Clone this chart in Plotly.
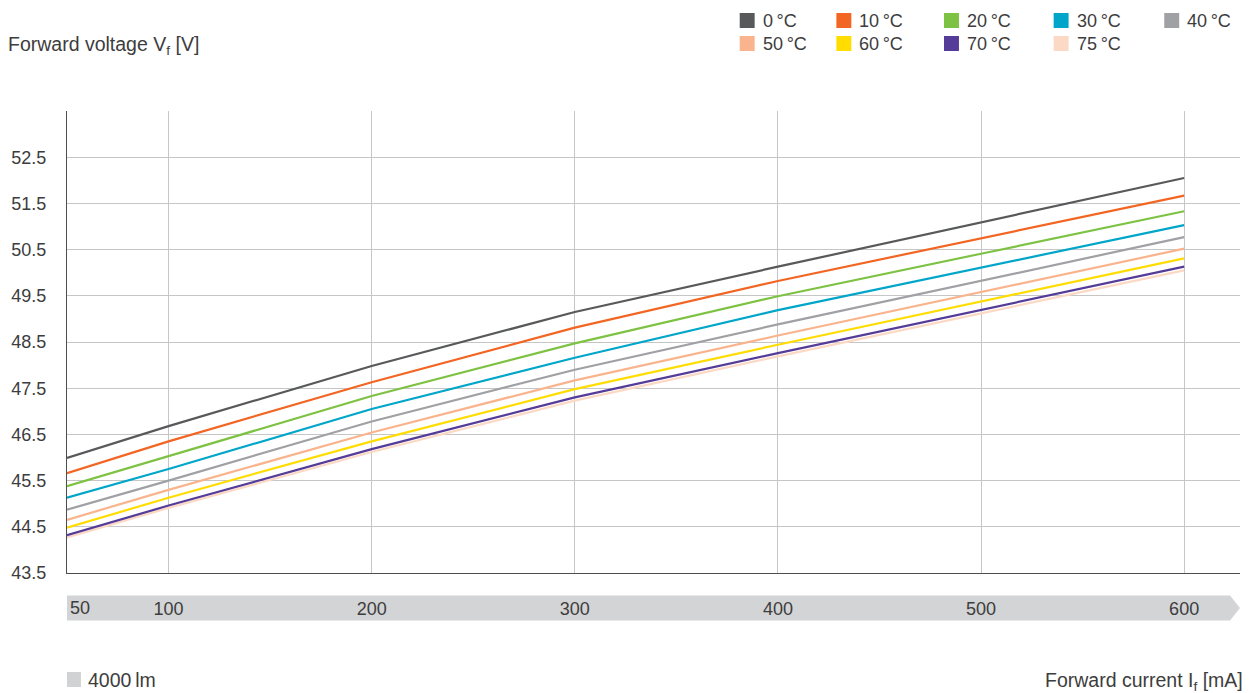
import plotly.graph_objects as go

# ---- data ----
current_mA = [50, 100, 200, 300, 400, 500, 600]
series_names = ["0\u2009°C", "10\u2009°C", "20\u2009°C", "30\u2009°C", "40\u2009°C",
                "50\u2009°C", "60\u2009°C", "70\u2009°C", "75\u2009°C"]
v_0 = [45.99, 46.68, 47.98, 49.15, 50.13, 51.09, 52.05]
v_10 = [45.66, 46.35, 47.63, 48.81, 49.82, 50.75, 51.67]
v_20 = [45.38, 46.03, 47.33, 48.47, 49.49, 50.41, 51.33]
v_30 = [45.13, 45.75, 47.05, 48.16, 49.19, 50.11, 51.03]
v_40 = [44.87, 45.50, 46.78, 47.90, 48.88, 49.83, 50.77]
v_50 = [44.65, 45.30, 46.54, 47.67, 48.64, 49.58, 50.52]
v_60 = [44.48, 45.13, 46.35, 47.48, 48.44, 49.37, 50.31]
v_70 = [44.32, 44.96, 46.18, 47.30, 48.26, 49.19, 50.13]
v_75 = [44.27, 44.91, 46.12, 47.23, 48.19, 49.12, 50.05]
series_values = [v_0, v_10, v_20, v_30, v_40, v_50, v_60, v_70, v_75]
colors = ["#58595b", "#f26522", "#7dc242", "#00a6c9", "#a0a1a4",
          "#f9b48d", "#ffdd00", "#553c99", "#fcd9c4"]
x_ticks = [100, 200, 300, 400, 500, 600]
y_ticks = [43.5, 44.5, 45.5, 46.5, 47.5, 48.5, 49.5, 50.5, 51.5, 52.5]

FONT = "Liberation Sans, Arial, sans-serif"
TXT = "#3d3d3d"

W, H = 1251, 693
L, R, T, B = 63, 11, 111, 120
PW, PH = W - L - R, H - T - B


def px(xp):
    return (xp - L) / PW


def py(yp):
    return (H - B - yp) / PH


fig = go.Figure()
# draw in reverse so the 0°C line is on top
for name, vals, col in reversed(list(zip(series_names, series_values, colors))):
    fig.add_trace(go.Scatter(x=current_mA, y=vals, mode="lines", name=name,
                             line=dict(color=col, width=2.2), showlegend=False,
                             hoverinfo="x+y+name"))

shapes = []
annotations = []

# arrow band under the x axis
shapes.append(dict(type="path", xref="paper", yref="paper",
                   path=f"M 0,{py(595.5)} L {px(1230)},{py(595.5)} L {px(1240)},{py(608)} "
                        f"L {px(1230)},{py(620.5)} L 0,{py(620.5)} Z",
                   fillcolor="#d3d4d5", line=dict(width=0), layer="below"))
annotations.append(dict(text="50", x=current_mA[0], xref="x", xanchor="left", xshift=1,
                        y=py(608), yref="paper", yanchor="middle", showarrow=False,
                        font=dict(family=FONT, size=18, color=TXT)))

# custom legend (grid of 2 rows x 5 columns)
col_left = [738, 835, 943, 1053, 1164]
row_center = [20.5, 43.5]
for i, (name, col) in enumerate(zip(series_names, colors)):
    r, c = divmod(i, 5)
    x0 = col_left[c]
    yc = row_center[r]
    shapes.append(dict(type="rect", xref="paper", yref="paper",
                       x0=px(x0), x1=px(x0 + 15), y0=py(yc + 7.5), y1=py(yc - 7.5),
                       fillcolor=col, line=dict(width=0)))
    annotations.append(dict(text=name, x=px(x0 + 21), xref="paper", xanchor="left",
                            y=py(yc + 1), yref="paper", yanchor="middle", showarrow=False,
                            font=dict(family=FONT, size=18, color=TXT)))

# axis titles
annotations.append(dict(text="Forward voltage V<sub>f</sub> [V]", x=px(2), xref="paper",
                        xanchor="left", y=py(45), yref="paper", yanchor="middle",
                        showarrow=False, font=dict(family=FONT, size=19.5, color=TXT)))
annotations.append(dict(text="Forward current I<sub>f</sub> [mA]", x=px(1245), xref="paper",
                        xanchor="right", y=py(681), yref="paper", yanchor="middle",
                        showarrow=False, font=dict(family=FONT, size=19.5, color=TXT)))
# bottom-left series key
shapes.append(dict(type="rect", xref="paper", yref="paper",
                   x0=px(63), x1=px(77), y0=py(687), y1=py(672),
                   fillcolor="#d1d2d4", line=dict(width=0)))
annotations.append(dict(text="4000\u2009lm", x=px(82), xref="paper", xanchor="left",
                        y=py(680), yref="paper", yanchor="middle", showarrow=False,
                        font=dict(family=FONT, size=19.5, color=TXT)))

fig.update_layout(
    width=W, height=H,
    margin=dict(l=L, r=R, t=T, b=B, pad=0),
    paper_bgcolor="white", plot_bgcolor="white",
    showlegend=False,
    shapes=shapes, annotations=annotations,
    font=dict(family=FONT, size=18, color=TXT),
    xaxis=dict(range=[50, 627.5], tickmode="array", tickvals=x_ticks,
               ticktext=[str(v) for v in x_ticks],
               showgrid=True, gridcolor="#c6c6c6", gridwidth=1,
               showline=True, linecolor="#4d4d4d", linewidth=1,
               zeroline=False, ticks="", ticklabelstandoff=19,
               tickfont=dict(family=FONT, size=18, color=TXT)),
    yaxis=dict(range=[43.5, 53.5], tickmode="array", tickvals=y_ticks,
               ticktext=[f"{v:.1f}" for v in y_ticks],
               showgrid=True, gridcolor="#c6c6c6", gridwidth=1,
               showline=True, linecolor="#4d4d4d", linewidth=1,
               zeroline=False, ticks="", ticklabelstandoff=16,
               tickfont=dict(family=FONT, size=18, color=TXT)),
)

fig.write_html("out.html", post_script="document.body.style.margin='0px';",
               config={"displayModeBar": False})
